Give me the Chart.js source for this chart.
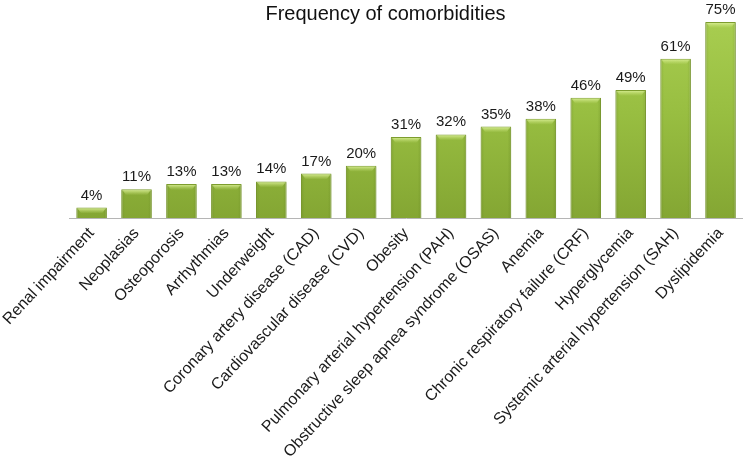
<!DOCTYPE html>
<html>
<head>
<meta charset="utf-8">
<script src="https://cdn.jsdelivr.net/npm/chart.js@4/dist/chart.umd.min.js"></script>
<style>
  html, body { margin: 0; padding: 0; background: #fff; }
  #wrap { position: relative; width: 743px; height: 465px; }
  #title { position: absolute; left: 0; top: 2px; width: 743px; padding-left: 28px; box-sizing: border-box; text-align: center;
           font-family: "Liberation Sans", Arial, sans-serif; font-size: 20px; color: #111; line-height: 22px; }
</style>
</head>
<body>
<div id="wrap">
  <canvas id="c" width="743" height="465"></canvas>
  <div id="title">Frequency of comorbidities</div>
</div>
<script>
const categories = [
  "Renal impairment", "Neoplasias", "Osteoporosis", "Arrhythmias", "Underweight",
  "Coronary artery disease (CAD)", "Cardiovascular disease (CVD)", "Obesity",
  "Pulmonary arterial hypertension (PAH)", "Obstructive sleep apnea syndrome (OSAS)",
  "Anemia", "Chronic respiratory failure (CRF)", "Hyperglycemia",
  "Systemic arterial hypertension (SAH)", "Dyslipidemia"
];
const frequencyPct = [4, 11, 13, 13, 14, 17, 20, 31, 32, 35, 38, 46, 49, 61, 75];

const valueLabels = {
  id: 'valueLabels',
  afterDatasetsDraw(chart) {
    const ctx = chart.ctx;
    const meta = chart.getDatasetMeta(0);
    ctx.save();
    meta.data.forEach((bar) => {
      const w = bar.width, x0 = bar.x - w / 2, y0 = bar.y;
      const g = ctx.createLinearGradient(0, y0, 0, y0 + 6);
      g.addColorStop(0, 'rgba(225,245,160,0.95)');
      g.addColorStop(1, 'rgba(200,225,120,0)');
      ctx.fillStyle = g;
      ctx.beginPath();
      ctx.moveTo(x0 + 1, y0 + 1);
      ctx.lineTo(x0 + w - 1, y0 + 1);
      ctx.lineTo(x0 + w - 5, y0 + 6);
      ctx.lineTo(x0 + 5, y0 + 6);
      ctx.closePath();
      ctx.fill();
      const gs = ctx.createLinearGradient(x0, 0, x0 + w, 0);
      gs.addColorStop(0, 'rgba(80,110,20,0.22)');
      gs.addColorStop(0.12, 'rgba(80,110,20,0)');
      gs.addColorStop(0.88, 'rgba(80,110,20,0)');
      gs.addColorStop(1, 'rgba(80,110,20,0.22)');
      ctx.fillStyle = gs;
      ctx.fillRect(x0, y0 + 1, w, bar.base - y0 - 1);
    });
    ctx.fillStyle = '#1a1a1a';
    ctx.font = '15px "Liberation Sans", Arial, sans-serif';
    ctx.textAlign = 'center';
    ctx.textBaseline = 'alphabetic';
    meta.data.forEach((bar, i) => {
      ctx.fillText(frequencyPct[i] + '%', bar.x, bar.y - 8);
    });
    ctx.restore();
  }
};

new Chart(document.getElementById('c'), {
  type: 'bar',
  data: {
    labels: categories,
    datasets: [{
      data: frequencyPct,
      backgroundColor: (context) => {
        const chart = context.chart;
        const area = chart.chartArea;
        if (!area) return '#94ba3e';
        const g = chart.ctx.createLinearGradient(0, area.top, 0, area.bottom);
        g.addColorStop(0, '#aacf52');
        g.addColorStop(0.5, '#98be41');
        g.addColorStop(1, '#84a633');
        return g;
      },
      borderColor: '#7d9d2e',
      borderWidth: 1,
      barPercentage: 0.68,
      categoryPercentage: 1.0
    }]
  },
  options: {
    responsive: false,
    animation: false,
    layout: { padding: { top: 9, right: 0, left: 3, bottom: 0 } },
    plugins: {
      legend: { display: false },
      title: { display: false },
      tooltip: { enabled: false }
    },
    scales: {
      y: { display: false, min: 0, max: 80 },
      x: {
        afterFit: (scale) => { scale.height = 247; },
        grid: { display: false, drawTicks: false },
        border: { display: true, color: '#b5b5b5', width: 1 },
        ticks: {
          maxRotation: 47, minRotation: 47,
          color: '#1a1a1a',
          padding: 6,
          autoSkip: false,
          font: { family: '"Liberation Sans", Arial, sans-serif', size: 16 }
        }
      }
    }
  },
  plugins: [valueLabels]
});
</script>
</body>
</html>
